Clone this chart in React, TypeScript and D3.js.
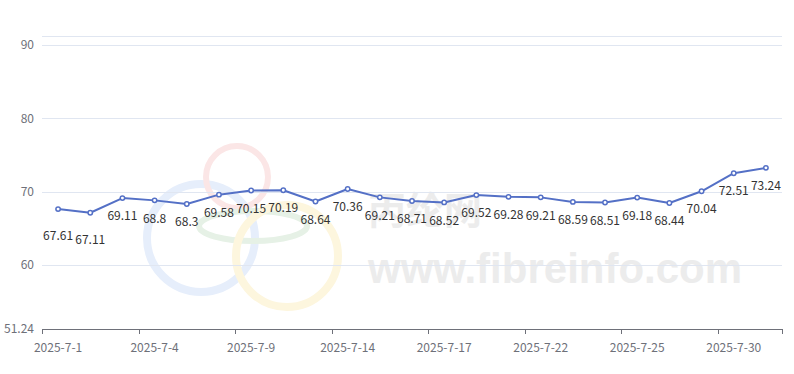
import { useEffect, useRef } from "react";
import * as d3 from "d3";

const WIDTH = 794;
const HEIGHT = 374;
const MARGIN = { top: 36, right: 12, bottom: 45, left: 42 };

const DATES = [
  "2025-7-1", "2025-7-2", "2025-7-3", "2025-7-4", "2025-7-7", "2025-7-8",
  "2025-7-9", "2025-7-10", "2025-7-11", "2025-7-14", "2025-7-15", "2025-7-16",
  "2025-7-17", "2025-7-18", "2025-7-21", "2025-7-22", "2025-7-23", "2025-7-24",
  "2025-7-25", "2025-7-28", "2025-7-29", "2025-7-30", "2025-7-31"
];
const VALUES = [
  67.61, 67.11, 69.11, 68.8, 68.3, 69.58, 70.15, 70.19, 68.64, 70.36, 69.21, 68.71,
  68.52, 69.52, 69.28, 69.21, 68.59, 68.51, 69.18, 68.44, 70.04, 72.51, 73.24
];
const Y_MIN = 51.24;
const Y_MAX = 91.24;
const Y_TICKS = [51.24, 60, 70, 80, 90];
const GRID_LINES = [60, 70, 80, 90, 91.24];
const LABEL_EVERY = 3;

const FONT = "'Microsoft YaHei', 'Noto Sans CJK SC', sans-serif";

export default function App() {
  const svgRef = useRef<SVGSVGElement | null>(null);

  useEffect(() => {
    document.body.style.margin = "0";
    const svg = d3.select(svgRef.current);
    svg.selectAll("*").remove();

    const plotLeft = MARGIN.left;
    const plotRight = WIDTH - MARGIN.right;
    const plotTop = MARGIN.top;
    const plotBottom = HEIGHT - MARGIN.bottom;

    const x = d3.scaleBand<string>().domain(DATES).range([plotLeft, plotRight]);
    const y = d3.scaleLinear().domain([Y_MIN, Y_MAX]).range([plotBottom, plotTop]);
    const cx = (d: string) => (x(d) ?? 0) + x.bandwidth() / 2;

    svg.append("rect").attr("width", WIDTH).attr("height", HEIGHT).attr("fill", "#ffffff");

    // watermark
    const wm = svg.append("g");
    wm.append("circle").attr("cx", 201).attr("cy", 238).attr("r", 54)
      .attr("fill", "none").attr("stroke", "#e6eefb").attr("stroke-width", 8);
    wm.append("circle").attr("cx", 237).attr("cy", 177).attr("r", 31)
      .attr("fill", "none").attr("stroke", "#fbe6e6").attr("stroke-width", 6);
    wm.append("ellipse").attr("cx", 253).attr("cy", 226).attr("rx", 54).attr("ry", 15)
      .attr("fill", "none").attr("stroke", "#e6f1e6").attr("stroke-width", 6);
    wm.append("circle").attr("cx", 287).attr("cy", 256).attr("r", 51)
      .attr("fill", "none").attr("stroke", "#fdf6de").attr("stroke-width", 8);
    wm.append("text").attr("x", 368).attr("y", 224)
      .attr("font-family", "'Noto Sans CJK SC', sans-serif").attr("font-size", 38)
      .attr("font-weight", 700).attr("fill", "#ececec").text("丙纶网");
    wm.append("text").attr("x", 368).attr("y", 283)
      .attr("font-family", "'Liberation Sans', Arial, sans-serif").attr("font-size", 42)
      .attr("font-weight", 700).attr("fill", "#ececec").text("www.fibreinfo.com");

    // grid
    svg.append("g")
      .selectAll("line")
      .data(GRID_LINES)
      .join("line")
      .attr("x1", plotLeft)
      .attr("x2", plotRight)
      .attr("y1", (d) => Math.round(y(d)) + 0.5)
      .attr("y2", (d) => Math.round(y(d)) + 0.5)
      .attr("stroke", "#e0e6f1");

    // y labels
    svg.append("g")
      .selectAll("text")
      .data(Y_TICKS)
      .join("text")
      .attr("x", plotLeft - 8)
      .attr("y", (d) => y(d))
      .attr("dy", "0.35em")
      .attr("text-anchor", "end")
      .attr("font-family", FONT)
      .attr("font-size", 12)
      .attr("fill", "#6e7079")
      .text((d) => String(d));

    // x axis
    const xAxis = svg.append("g");
    xAxis.append("line")
      .attr("x1", plotLeft).attr("x2", plotRight)
      .attr("y1", plotBottom + 0.5).attr("y2", plotBottom + 0.5)
      .attr("stroke", "#6e7079");
    const tickIdx = d3.range(0, DATES.length, LABEL_EVERY);
    const tickXs = tickIdx.map((i) => x(DATES[i]) ?? 0).concat([plotRight]);
    xAxis.selectAll("line.tick")
      .data(tickXs)
      .join("line")
      .attr("class", "tick")
      .attr("x1", (d) => Math.round(d) + 0.5)
      .attr("x2", (d) => Math.round(d) + 0.5)
      .attr("y1", plotBottom)
      .attr("y2", plotBottom + 5)
      .attr("stroke", "#6e7079");
    xAxis.selectAll("text")
      .data(tickIdx.map((i) => DATES[i]))
      .join("text")
      .attr("x", (d) => cx(d))
      .attr("y", plotBottom + 19)
      .attr("dy", "0.35em")
      .attr("text-anchor", "middle")
      .attr("font-family", FONT)
      .attr("font-size", 12)
      .attr("fill", "#6e7079")
      .text((d) => d);

    // line
    const line = d3.line<number>()
      .x((_, i) => cx(DATES[i]))
      .y((d) => y(d));
    svg.append("path")
      .datum(VALUES)
      .attr("d", line)
      .attr("fill", "none")
      .attr("stroke", "#5470c6")
      .attr("stroke-width", 2)
      .attr("stroke-linejoin", "round");

    svg.append("g")
      .selectAll("circle")
      .data(VALUES)
      .join("circle")
      .attr("cx", (_, i) => cx(DATES[i]))
      .attr("cy", (d) => y(d))
      .attr("r", 2.2)
      .attr("fill", "#ffffff")
      .attr("stroke", "#5470c6")
      .attr("stroke-width", 1.5);

    svg.append("g")
      .selectAll("text")
      .data(VALUES)
      .join("text")
      .attr("x", (_, i) => cx(DATES[i]))
      .attr("y", (d, i) => y(d) + (i < 2 ? 27 : 18))
      .attr("dy", "0.35em")
      .attr("text-anchor", "middle")
      .attr("font-family", FONT)
      .attr("font-size", 12)
      .attr("fill", "#333333")
      .text((d) => String(d));
  }, []);

  return <svg ref={svgRef} width={WIDTH} height={HEIGHT} style={{ display: "block" }} />;
}
